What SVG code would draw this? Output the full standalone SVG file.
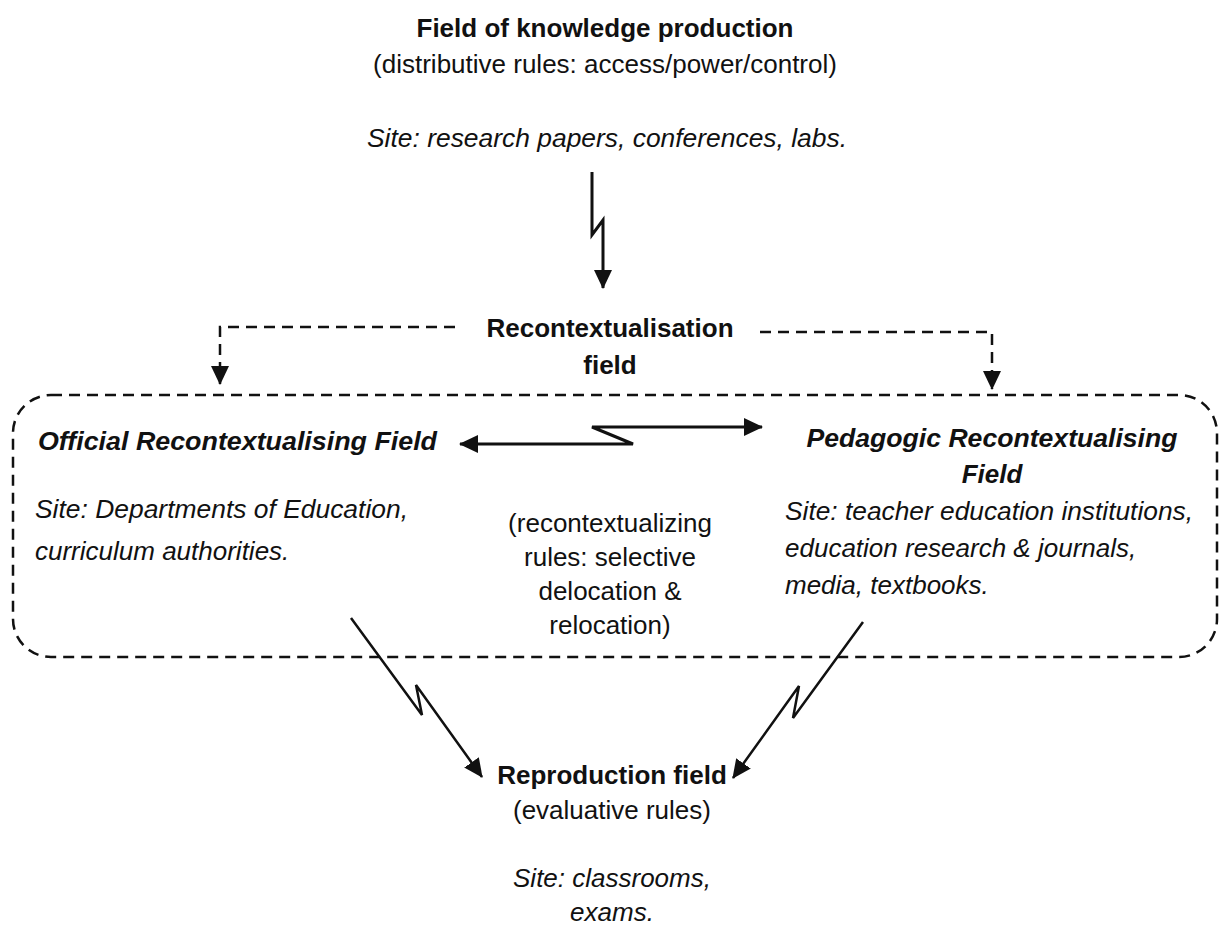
<svg xmlns="http://www.w3.org/2000/svg" width="1227" height="940" viewBox="0 0 1227 940">
<style>
text{font-family:"Liberation Sans",Arial,sans-serif;font-size:26px;fill:#111;}
.b{font-weight:bold;}
.i{font-style:italic;}
.bi{font-weight:bold;font-style:italic;}
.m{text-anchor:middle;}
.solid{fill:none;stroke:#111;stroke-width:3;stroke-linejoin:miter;}
.dash{fill:none;stroke:#111;stroke-width:2.5;stroke-dasharray:11 7;}
</style>
<defs>
<marker id="ah" markerUnits="userSpaceOnUse" markerWidth="22" markerHeight="22" refX="18" refY="9" orient="auto-start-reverse" viewBox="0 0 22 22">
<path d="M0,0 L19,9 L0,18 Z" fill="#111"/>
</marker>
</defs>
<rect width="1227" height="940" fill="#fff"/>

<g id="knowledge-production">
<text class="b m" x="605" y="37">Field of knowledge production</text>
<text class="m" x="605" y="73">(distributive rules: access/power/control)</text>
<text class="i m" x="607" y="147" textLength="480" lengthAdjust="spacingAndGlyphs">Site: research papers, conferences, labs.</text>
</g>

<g id="recontextualisation-field">
<text class="b m" x="610" y="337">Recontextualisation</text>
<text class="b m" x="610" y="374">field</text>
</g>

<g id="recontextualising-box">
<rect class="dash" x="13" y="395" width="1204" height="262" rx="38" ry="38"/>
</g>

<g id="official-field">
<text class="bi" x="38" y="450" textLength="399" lengthAdjust="spacingAndGlyphs">Official Recontextualising Field</text>
<text class="i" x="35" y="518" textLength="373" lengthAdjust="spacingAndGlyphs">Site: Departments of Education,</text>
<text class="i" x="35" y="560">curriculum authorities.</text>
</g>

<g id="recontextualizing-rules">
<text class="m" x="610" y="532">(recontextualizing</text>
<text class="m" x="610" y="566">rules: selective</text>
<text class="m" x="610" y="600">delocation &amp;</text>
<text class="m" x="610" y="634">relocation)</text>
</g>

<g id="pedagogic-field">
<text class="bi m" x="992" y="447" textLength="371" lengthAdjust="spacingAndGlyphs">Pedagogic Recontextualising</text>
<text class="bi m" x="992" y="483">Field</text>
<text class="i" x="785" y="520" textLength="408" lengthAdjust="spacingAndGlyphs">Site: teacher education institutions,</text>
<text class="i" x="785" y="557">education research &amp; journals,</text>
<text class="i" x="785" y="594">media, textbooks.</text>
</g>

<g id="reproduction-field">
<text class="b m" x="612" y="784">Reproduction field</text>
<text class="m" x="612" y="819">(evaluative rules)</text>
<text class="i m" x="612" y="887">Site: classrooms,</text>
<text class="i m" x="612" y="921">exams.</text>
</g>

<g id="connectors">
<path class="solid" d="M592,172 L592,235 L603,220 L603,288" marker-end="url(#ah)"/>
<path class="solid" d="M460,444 L633,444 L592,427 L762,427" marker-start="url(#ah)" marker-end="url(#ah)"/>
<path class="solid" style="stroke-width:2.5" d="M351,618 L422,715 L416,685 L482,777" marker-end="url(#ah)"/>
<path class="solid" style="stroke-width:2.5" d="M863,622 L793,718 L799,686 L733,778" marker-end="url(#ah)"/>
<path class="dash" d="M455,327 L220,327 L220,384" marker-end="url(#ah)"/>
<path class="dash" d="M760,332 L992,332 L992,389" marker-end="url(#ah)"/>
</g>
</svg>
